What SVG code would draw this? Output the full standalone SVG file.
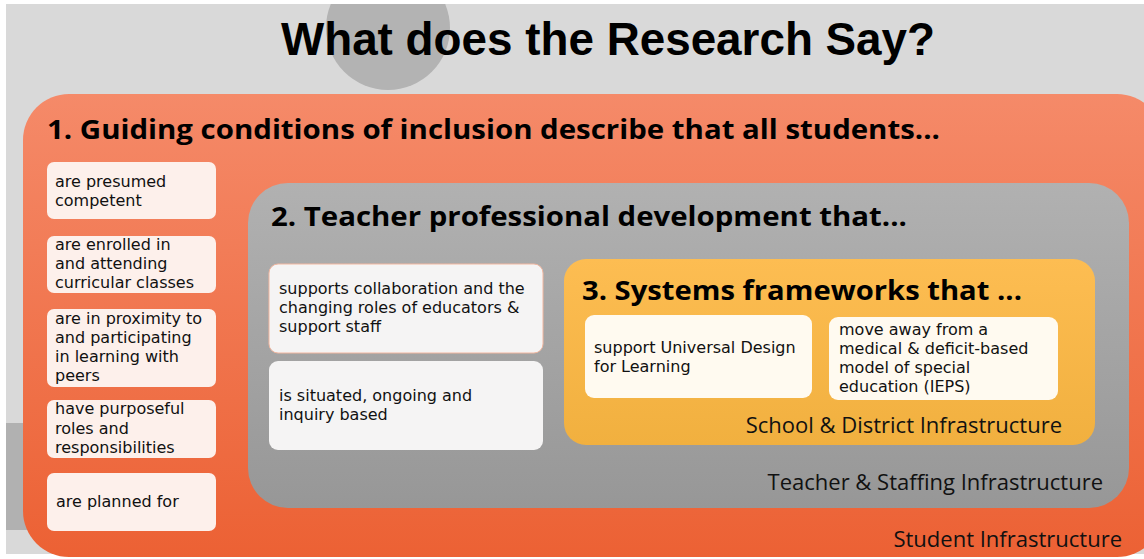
<svg xmlns="http://www.w3.org/2000/svg" width="1144" height="559" viewBox="0 0 1144 559">
<defs>
<linearGradient id="gOrange" x1="0" y1="0" x2="0" y2="1">
<stop offset="0" stop-color="#f58a69"/>
<stop offset="1" stop-color="#ec6134"/>
</linearGradient>
<linearGradient id="gGrey" x1="0" y1="0" x2="0" y2="1">
<stop offset="0" stop-color="#b1b1b1"/>
<stop offset="1" stop-color="#979797"/>
</linearGradient>
<linearGradient id="gYellow" x1="0" y1="0" x2="0" y2="1">
<stop offset="0" stop-color="#fdbd52"/>
<stop offset="1" stop-color="#f1b03f"/>
</linearGradient>
<style>
.h{font-family:"Open Sans","Liberation Sans",sans-serif;font-weight:bold;font-size:26px;fill:#000}
.b{font-family:"DejaVu Sans","Liberation Sans",sans-serif;font-size:16px;fill:#111}
.lab{font-family:"Open Sans","Liberation Sans",sans-serif;font-size:22px;fill:#111}
.lb{fill:#fdf0eb}
.tb{fill:#f5f4f4}
.sb{fill:#fffaf0}
</style>
</defs>
<rect x="0" y="0" width="1144" height="559" fill="#ffffff"/>
<rect x="6" y="4" width="1138" height="550" fill="#d9d9d9"/>
<rect x="6" y="423" width="30" height="107" fill="#b1b1b1"/>
<circle cx="388" cy="28" r="62" fill="#b3b3b3"/>
<rect x="6" y="0" width="1138" height="4" fill="#ffffff"/>
<text x="608" y="55" text-anchor="middle" font-family="Liberation Sans, Arial, sans-serif" font-weight="bold" font-size="45.8" fill="#000">What does the Research Say?</text>

<g id="student">
<rect x="23" y="94" width="1140" height="463" rx="46" fill="url(#gOrange)"/>
<text class="h" x="47" y="139" textLength="893" lengthAdjust="spacingAndGlyphs">1. Guiding conditions of inclusion describe that all students...</text>
<text class="lab" x="1122" y="547" text-anchor="end">Student Infrastructure</text>
</g>

<g id="s1"><rect class="lb" x="47" y="162" width="169" height="57" rx="7"/><text class="b" x="55" y="187">are presumed<tspan x="55" dy="19">competent</tspan></text></g>
<g id="s2"><rect class="lb" x="47" y="236" width="169" height="57" rx="7"/><text class="b" x="55" y="250">are enrolled in<tspan x="55" dy="19">and attending</tspan><tspan x="55" dy="19">curricular classes</tspan></text></g>
<g id="s3"><rect class="lb" x="47" y="309" width="169" height="78" rx="7"/><text class="b" x="55" y="324">are in proximity to<tspan x="55" dy="19">and participating</tspan><tspan x="55" dy="19">in learning with</tspan><tspan x="55" dy="19">peers</tspan></text></g>
<g id="s4"><rect class="lb" x="47" y="400" width="169" height="58" rx="7"/><text class="b" x="55" y="414">have purposeful<tspan x="55" dy="19.5">roles and</tspan><tspan x="55" dy="19.5">responsibilities</tspan></text></g>
<g id="s5"><rect class="lb" x="47" y="473" width="169" height="58" rx="7"/><text class="b" x="56" y="507">are planned for</text></g>

<g id="teacher">
<rect x="248" y="183" width="881" height="325" rx="40" fill="url(#gGrey)"/>
<text class="h" x="271" y="226" textLength="636" lengthAdjust="spacingAndGlyphs">2. Teacher professional development that...</text>
<text class="lab" x="1103" y="490" text-anchor="end">Teacher &amp; Staffing Infrastructure</text>
</g>
<g id="t1"><rect class="tb" x="269" y="264" width="274" height="89" rx="9" stroke="#f2b7a0" stroke-width="1"/><text class="b" x="279" y="294">supports collaboration and the<tspan x="279" dy="19">changing roles of educators &amp;</tspan><tspan x="279" dy="19">support staff</tspan></text></g>
<g id="t2"><rect class="tb" x="269" y="361" width="274" height="89" rx="9"/><text class="b" x="279" y="401">is situated, ongoing and<tspan x="279" dy="19">inquiry based</tspan></text></g>

<g id="school">
<rect x="564" y="259" width="531" height="186" rx="22" fill="url(#gYellow)"/>
<text class="h" x="582" y="300" textLength="440" lengthAdjust="spacingAndGlyphs">3. Systems frameworks that ...</text>
<text class="lab" x="1062" y="433" text-anchor="end">School &amp; District Infrastructure</text>
</g>
<g id="f1"><rect class="sb" x="585" y="315" width="227" height="83" rx="9"/><text class="b" x="594" y="353">support Universal Design<tspan x="594" dy="19">for Learning</tspan></text></g>
<g id="f2"><rect class="sb" x="829" y="317" width="229" height="83" rx="9"/><text class="b" x="839" y="335">move away from a<tspan x="839" dy="19">medical &amp; deficit-based</tspan><tspan x="839" dy="19">model of special</tspan><tspan x="839" dy="19">education (IEPS)</tspan></text></g>

<g id="connectors"></g>
</svg>
